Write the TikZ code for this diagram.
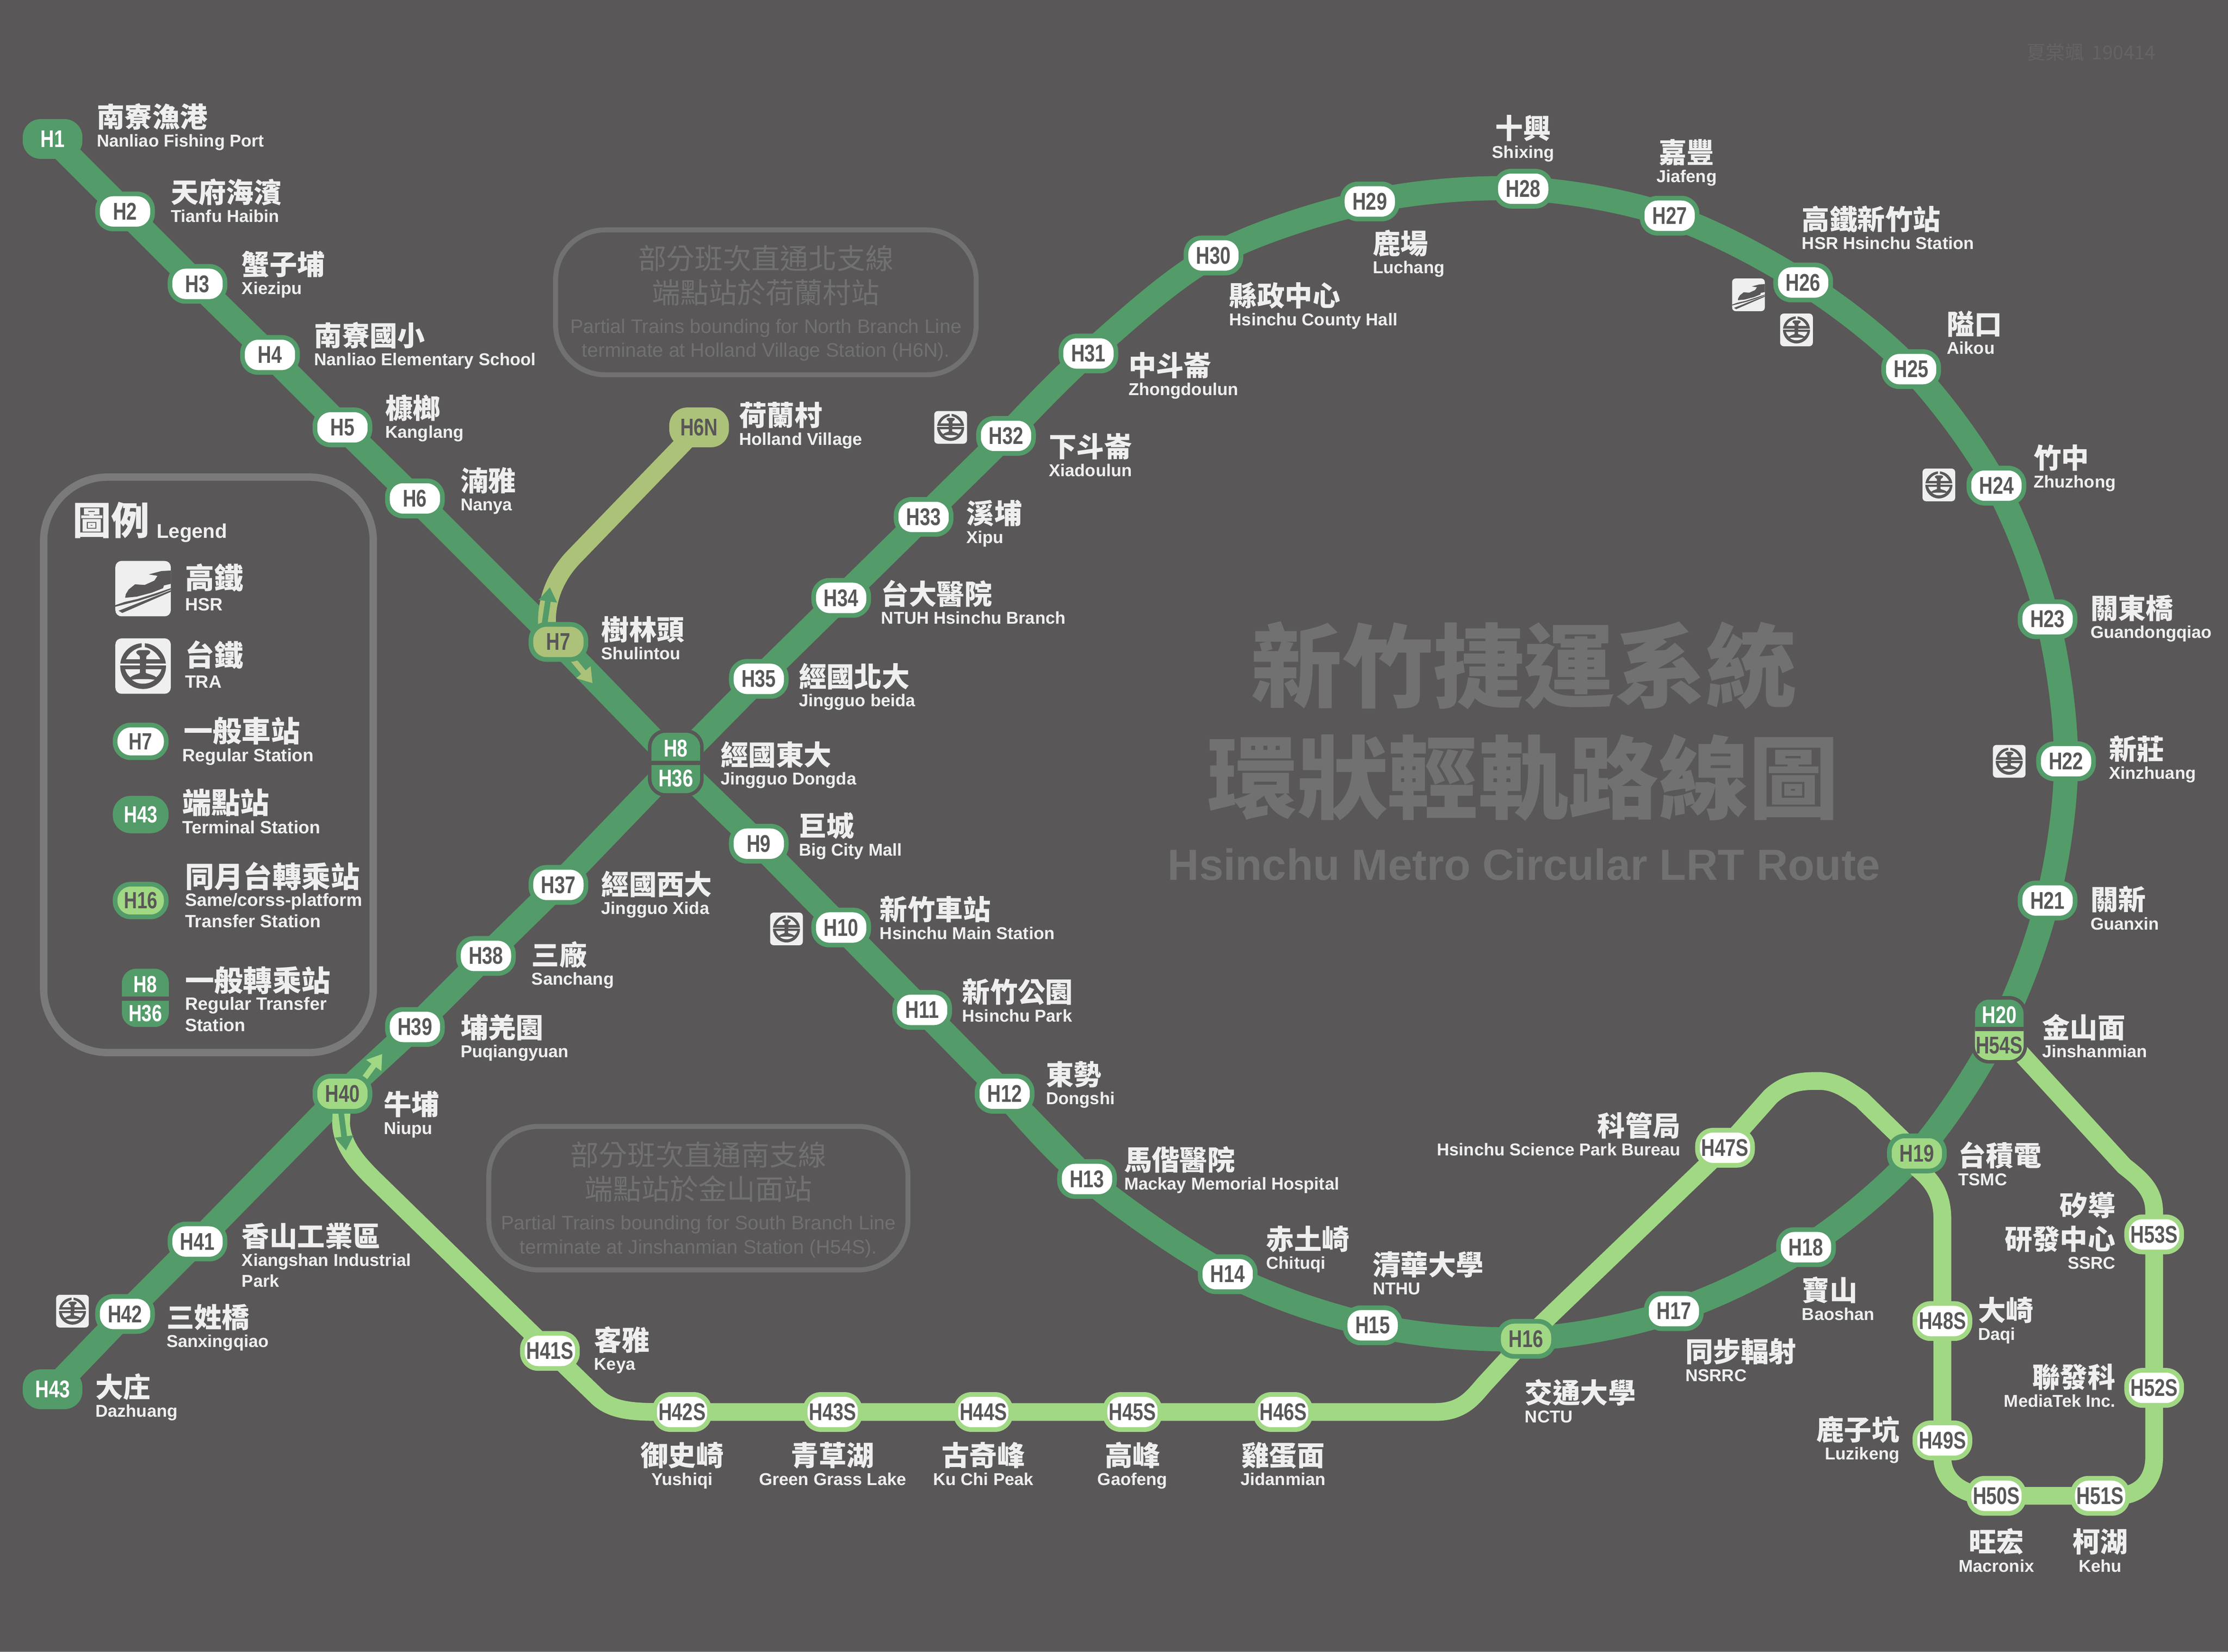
\documentclass[tikz,border=0pt]{standalone}
\usepackage{fontspec}
\usetikzlibrary{arrows.meta}
\setmainfont{Liberation Sans}
\newfontfamily\zhf{Noto Sans CJK TC}
\newfontfamily\codef[FakeStretch=0.78]{Liberation Sans}
\definecolor{bgc}{HTML}{595757}
\definecolor{mainc}{HTML}{539B69}
\definecolor{lightc}{HTML}{A1D884}
\definecolor{olivec}{HTML}{ACC278}
\definecolor{textc}{HTML}{EFEFEF}
\definecolor{mutec}{HTML}{727171}
\definecolor{legc}{HTML}{7A7A7A}
\definecolor{markc}{HTML}{656363}
\pgfdeclarelayer{fg}
\pgfsetlayers{main,fg}
\newcommand{\codefont}{\codef\bfseries\fontsize{17}{17}\selectfont}
\newcommand{\legcode}{\codef\bfseries\fontsize{16.5}{17}\selectfont}
\tikzset{
  mainline/.style={draw=mainc,line width=17pt,line join=round},
  lightline/.style={draw=lightc,line width=12.5pt,line join=round},
  oliveline/.style={draw=olivec,line width=12.5pt,line join=round},
  pill/.style={rectangle,rounded corners=11pt,minimum width=38.7pt,minimum height=24.7pt,inner sep=0pt,line width=3.3pt,font=\codefont},
  stn/.style={pill,fill=white,draw=mainc,text=bgc},
  stnl/.style={pill,fill=white,draw=lightc,text=bgc},
  stnf/.style={pill,fill=lightc,draw=mainc,text=bgc},
  stno/.style={pill,fill=olivec,draw=mainc,text=bgc},
  term/.style={pill,fill=mainc,draw=mainc,text=white},
  termo/.style={pill,fill=olivec,draw=olivec,text=bgc},
  legpill/.style={minimum width=36pt,minimum height=23pt,font=\legcode},
  halo/.style={rectangle,fill=bgc,rounded corners=12.5pt,minimum width=39.2pt,minimum height=47.5pt,inner sep=0pt,outer sep=0pt},
  xbox/.style={rectangle,fill=mainc,rounded corners=10pt,minimum width=34.2pt,minimum height=42.5pt,inner sep=0pt,outer sep=0pt},
  xbar/.style={rectangle,fill=bgc,minimum width=34.2pt,minimum height=3pt,inner sep=0pt,outer sep=0pt},
  xtext/.style={inner sep=0pt,font=\codefont},
  zhlab/.style={inner sep=0pt,text=textc,font=\zhf\bfseries\fontsize{19.5}{20}\selectfont},
  enlab/.style={inner sep=0pt,text=textc,font=\bfseries\fontsize{12.1}{13}\selectfont},
  zhleg/.style={inner sep=0pt,text=textc,font=\zhf\bfseries\fontsize{20.5}{21}\selectfont},
  enleg/.style={inner sep=0pt,text=textc,font=\bfseries\fontsize{12.55}{13}\selectfont},
  notebox/.style={draw=mutec,line width=3.5pt,rounded corners=35pt},
  notezh/.style={inner sep=0pt,text=mutec,font=\zhf\fontsize{20}{21}\selectfont},
  noteen/.style={inner sep=0pt,text=mutec,font=\fontsize{13.75}{14}\selectfont},
  titlezh/.style={inner sep=0pt,text=mutec,font=\zhf\bfseries\fontsize{64}{65}\selectfont},
  diracc/.style={line width=4pt,-{Stealth[length=10pt,width=12.5pt,inset=0pt]}},
}
% label: id, x, y (centre of the Chinese line), anchor, Chinese, English
\newcommand{\lab}[6]{%
  \node[zhlab,anchor=base #4] (#1z) at (#2,#3+6.8) {#5};
  \node[enlab,anchor=base #4] (#1e) at (#2,#3+20.5) {#6};}
\newcommand{\hsricon}[3]{%
\begin{scope}[shift={(#1,#2)},x=#3pt,y=-#3pt]
  \fill[textc,rounded corners=.11*346*#3pt] (-173,-173) rectangle (173,173);
  \fill[bgc] (173,-113) -- (115,-110) -- (35,-89) -- (90,-80) -- (70,-50) -- (10,-23) -- (-50,-27) -- (-90,5) -- (-108,35) -- (-112,57) -- (-40,50) -- (55,25) -- (125,-3) -- (130,-20) -- (173,-30) -- cycle;
  \fill[bgc] (-173,103) -- (-115,83) -- (-35,65) -- (85,27) -- (173,-3) -- (173,5) -- (85,40) -- (-25,75) -- (-173,113) -- cycle;
  \fill[bgc] (-153,138) -- (173,10) -- (173,20) -- (-130,152) -- cycle;
\end{scope}}
\newcommand{\traicon}[3]{%
\begin{scope}[shift={(#1,#2)},x=#3pt,y=-#3pt]
  \fill[textc,rounded corners=.11*346*#3pt] (-173,-173) rectangle (173,173);
  \fill[bgc] (0,0) circle[radius=143];
  \fill[textc] (-107,-43) .. controls (-87,-83) and (-50,-110) .. (-9,-118) -- (-9,-150) -- (11,-150) -- (11,-118) .. controls (50,-110) and (85,-83) .. (107,-43) -- cycle;
  \fill[bgc] (-43,-88) .. controls (-35,-100) and (-25,-100) .. (-20,-100) -- (25,-100) .. controls (35,-100) and (45,-95) .. (45,-88) .. controls (45,-72) and (20,-70) .. (20,-58) -- (20,-30) -- (-20,-30) -- (-20,-58) .. controls (-20,-70) and (-43,-72) .. (-43,-88) -- cycle;
  \fill[textc] (-150,-15) rectangle (-20,-3);
  \fill[textc] (20,-15) rectangle (150,-3);
  \fill[textc] (-112,20) -- (-20,20) -- (-20,40) .. controls (-20,48) and (-55,50) .. (-80,70) .. controls (-95,58) and (-107,38) .. (-112,20) -- cycle;
  \fill[textc] (17,20) -- (115,20) .. controls (110,40) and (97,58) .. (82,69) .. controls (60,50) and (17,48) .. (17,40) -- cycle;
  \fill[textc] (-69,85) .. controls (-35,80) and (35,80) .. (72,85) .. controls (50,104) and (20,110) .. (0,110) .. controls (-25,110) and (-50,102) .. (-69,85) -- cycle;
\end{scope}}
\begin{document}
\begin{tikzpicture}[x=1pt,y=-1pt]
\useasboundingbox (0,-0.8) rectangle (1568,1161.9);
\fill[bgc] (0,-0.8) rectangle (1568,1161.9);
\fill[legc] (0,1161.2) rectangle (1568,1161.9);

% ---------- stations on the top layer ----------
\begin{pgfonlayer}{fg}
\node[term] (H1) at (37,97) {H1};
\node[stn] (H2) at (88,148) {H2};
\node[stn] (H3) at (139,199) {H3};
\node[stn] (H4) at (190,249) {H4};
\node[stn] (H5) at (241,300) {H5};
\node[stn] (H6) at (292,350) {H6};
\node[stno] (H7) at (393,451) {H7};
\node[termo] (H6N) at (492,300) {H6N};
\node[stn] (H9) at (534,593) {H9};
\node[stn] (H10) at (592,652) {H10};
\node[stn] (H11) at (649,710) {H11};
\node[stn] (H12) at (707,769) {H12};
\node[stn] (H13) at (765,829) {H13};
\node[stn] (H14) at (864,896) {H14};
\node[stn] (H15) at (966,932) {H15};
\node[stnf] (H16) at (1074,941.5) {H16};
\node[stn] (H17) at (1178,922) {H17};
\node[stn] (H18) at (1271,877) {H18};
\node[stnf] (H19) at (1349,811) {H19};
\node[stn] (H21) at (1441,633) {H21};
\node[stn] (H22) at (1454,535) {H22};
\node[stn] (H23) at (1441,435) {H23};
\node[stn] (H24) at (1405,341) {H24};
\node[stn] (H25) at (1345,259) {H25};
\node[stn] (H26) at (1269,198) {H26};
\node[stn] (H27) at (1175,151) {H27};
\node[stn] (H28) at (1072,132) {H28};
\node[stn] (H29) at (964,141) {H29};
\node[stn] (H30) at (854,179) {H30};
\node[stn] (H31) at (766,248) {H31};
\node[stn] (H32) at (708,306) {H32};
\node[stn] (H33) at (650,363) {H33};
\node[stn] (H34) at (592,420) {H34};
\node[stn] (H35) at (534,477) {H35};
\node[stn] (H37) at (393,622) {H37};
\node[stn] (H38) at (342,672) {H38};
\node[stn] (H39) at (292,722) {H39};
\node[stnf] (H40) at (241,769) {H40};
\node[stn] (H41) at (139,873) {H41};
\node[stn] (H42) at (88,924) {H42};
\node[term] (H43) at (37,977) {H43};
\node[stnl] (H41S) at (387,950) {H41S};
\node[stnl] (H42S) at (480,993) {H42S};
\node[stnl] (H43S) at (586,993) {H43S};
\node[stnl] (H44S) at (692,993) {H44S};
\node[stnl] (H45S) at (797,993) {H45S};
\node[stnl] (H46S) at (903,993) {H46S};
\node[stnl] (H47S) at (1214,807) {H47S};
\node[stnl] (H48S) at (1367,929) {H48S};
\node[stnl] (H49S) at (1367,1013) {H49S};
\node[stnl] (H50S) at (1405,1052) {H50S};
\node[stnl] (H51S) at (1478,1052) {H51S};
\node[stnl] (H52S) at (1516,976) {H52S};
\node[stnl] (H53S) at (1516,868) {H53S};
% transfer stations
\node[halo] (H8h) at (475.6,536.2) {};
\node[xbox] (H8) at (475.6,536.2) {};
\node[xbar] (H8b) at (475.6,536) {};
\node[xtext,text=white] (H8t) at (475.6,526) {H8};
\node[xtext,text=white] (H36t) at (475.6,547) {H36};
\node[halo] (H20h) at (1407,724) {};
\node[xbox] (H20) at (1407,724) {};
\fill[lightc] (H20.west) [rounded corners=10pt] -- (H20.south west) -- (H20.south east) [sharp corners] -- (H20.east) -- cycle;
\node[xbar] (H20b) at (1407,723.5) {};
\node[xtext,text=white] (H20t) at (1407,713.5) {H20};
\node[xtext,text=bgc] (H54St) at (1407,735) {H54S};
% legend pills
\node[stn,legpill] (LH7) at (99,521) {H7};
\node[term,legpill] (LH43) at (99,572.5) {H43};
\node[stnf,legpill] (LH16) at (99,633) {H16};
\node[xbox,minimum width=33pt,minimum height=41pt] (LH8) at (102.3,701.5) {};
\node[xbar,minimum width=33pt] (LH8b) at (102.3,702) {};
\node[xtext,text=white,font=\legcode] (LH8t) at (102.3,692) {H8};
\node[xtext,text=white,font=\legcode] (LH36t) at (102.3,712.5) {H36};
\end{pgfonlayer}

% ---------- lines ----------
\draw[mainline] (H1.center) -- (H2.center) -- (H3.center) -- (H4.center) -- (H5.center) -- (H6.center) -- (H7.center) -- (H8.center) -- (H9.center) -- (H10.center) -- (H11.center) -- (H12.center) -- (H13.center);
\draw[mainline] plot[smooth,tension=.55] coordinates {(H12.center) (H13.center) (H14.center) (H15.center) (H16.center) (H17.center) (H18.center) (H19.center) (H20.center) (H21.center) (H22.center) (H23.center) (H24.center) (H25.center) (H26.center) (H27.center) (H28.center) (H29.center) (H30.center) (H31.center) (H32.center)};
\draw[mainline] (H32.center) -- (H33.center) -- (H34.center) -- (H35.center) -- (H8.center) -- (H37.center) -- (H38.center) -- (H39.center) -- (H40.center) -- (H41.center) -- (H42.center) -- (H43.center);
\draw[oliveline] (H6N.center) -- (405,390) .. controls (392,403) and (384,420) .. (385,440) -- (H7.center);
\draw[lightline] (H40.center) -- (240,790) .. controls (241,805) and (250,816) .. (262,828) -- (H41S.center) -- (420,982) .. controls (430,992) and (445,993) .. (465,993) -- (H42S.center) -- (H43S.center) -- (H44S.center) -- (H45S.center) -- (H46S.center) -- (1010,993) .. controls (1030,993) and (1037,982) .. (1045,973) -- (H16.center) -- (H47S.center) -- (1246,771) .. controls (1258,760) and (1270,760) .. (1280,760) .. controls (1292,760) and (1300,766) .. (1310,773) -- (H19.center);
\draw[lightline] (H19.center) -- (1350,822) .. controls (1362,832) and (1367,842) .. (1367,858) -- (H48S.center) -- (H49S.center) -- (1367,1025) .. controls (1367,1042) and (1382,1052) .. (1400,1052) -- (H50S.center) -- (H51S.center) -- (1490,1052) .. controls (1505,1052) and (1516,1042) .. (1516,1025) -- (H52S.center) -- (H53S.center) -- (1516,852) .. controls (1516,838) and (1508,830) .. (1495,820) -- (H20.center);
% direction arrows
\coordinate (aH7a) at (383,440);
\coordinate (aH7b) at (387,412.5);
\draw[diracc,draw=mainc,fill=mainc] (aH7a) -- (aH7b);
\coordinate (aH7c) at (402,462);
\coordinate (aH7d) at (417,480);
\draw[diracc,draw=olivec,fill=olivec] (aH7c) -- (aH7d);
\coordinate (aH40a) at (255,760);
\coordinate (aH40b) at (269,741);
\draw[diracc,draw=lightc,fill=lightc] (aH40a) -- (aH40b);
\coordinate (aH40c) at (240,782);
\coordinate (aH40d) at (243.5,809);
\draw[diracc,draw=mainc,fill=mainc] (aH40c) -- (aH40d);

% ---------- station labels ----------
\lab{H1}{68}{82}{west}{南寮漁港}{Nanliao Fishing Port}
\lab{H2}{120}{135}{west}{天府海濱}{Tianfu Haibin}
\lab{H3}{170}{186}{west}{蟹子埔}{Xiezipu}
\lab{H4}{221}{236}{west}{南寮國小}{Nanliao Elementary School}
\lab{H5}{271}{287}{west}{槺榔}{Kanglang}
\lab{H6}{324}{338}{west}{湳雅}{Nanya}
\lab{H7}{423}{443}{west}{樹林頭}{Shulintou}
\lab{H6N}{520}{292}{west}{荷蘭村}{Holland Village}
\lab{H8}{507}{531}{west}{經國東大}{Jingguo Dongda}
\lab{H9}{562}{581}{west}{巨城}{Big City Mall}
\lab{H10}{619}{640}{west}{新竹車站}{Hsinchu Main Station}
\lab{H11}{677}{698}{west}{新竹公園}{Hsinchu Park}
\lab{H12}{736}{756}{west}{東勢}{Dongshi}
\lab{H13}{791}{816}{west}{馬偕醫院}{Mackay Memorial Hospital}
\lab{H14}{891}{872}{west}{赤土崎}{Chituqi}
\lab{H15}{966}{890}{west}{清華大學}{NTHU}
\lab{H16}{1073}{980}{west}{交通大學}{NCTU}
\lab{H17}{1186}{951}{west}{同步輻射}{NSRRC}
\lab{H18}{1268}{908}{west}{寶山}{Baoshan}
\lab{H19}{1378}{813}{west}{台積電}{TSMC}
\lab{H20}{1437}{723}{west}{金山面}{Jinshanmian}
\lab{H21}{1471}{633}{west}{關新}{Guanxin}
\lab{H22}{1484}{527}{west}{新莊}{Xinzhuang}
\lab{H23}{1471}{428}{west}{關東橋}{Guandongqiao}
\lab{H24}{1431}{322}{west}{竹中}{Zhuzhong}
\lab{H25}{1370}{228}{west}{隘口}{Aikou}
\lab{H26}{1268}{154}{west}{高鐵新竹站}{HSR Hsinchu Station}
\lab{H27}{1187}{107}{}{嘉豐}{Jiafeng}
\lab{H28}{1072}{90}{}{十興}{Shixing}
\lab{H29}{966}{171}{west}{鹿場}{Luchang}
\lab{H30}{865}{208}{west}{縣政中心}{Hsinchu County Hall}
\lab{H31}{794}{257}{west}{中斗崙}{Zhongdoulun}
\lab{H32}{738}{314}{west}{下斗崙}{Xiadoulun}
\lab{H33}{680}{361}{west}{溪埔}{Xipu}
\lab{H34}{620}{418}{west}{台大醫院}{NTUH Hsinchu Branch}
\lab{H35}{562}{476}{west}{經國北大}{Jingguo beida}
\lab{H37}{423}{622}{west}{經國西大}{Jingguo Xida}
\lab{H38}{374}{672}{west}{三廠}{Sanchang}
\lab{H39}{324}{723}{west}{埔羌園}{Puqiangyuan}
\lab{H40}{270}{777}{west}{牛埔}{Niupu}
\lab{H41}{170}{870}{west}{香山工業區}{Xiangshan Industrial}
\node[enlab,anchor=base west] (H41p) at (170,905) {Park};
\lab{H42}{117}{927}{west}{三姓橋}{Sanxingqiao}
\lab{H43}{67}{976}{west}{大庄}{Dazhuang}
\lab{H41S}{418}{943}{west}{客雅}{Keya}
\lab{H42S}{480}{1024}{}{御史崎}{Yushiqi}
\lab{H43S}{586}{1024}{}{青草湖}{Green Grass Lake}
\lab{H44S}{692}{1024}{}{古奇峰}{Ku Chi Peak}
\lab{H45S}{797}{1024}{}{高峰}{Gaofeng}
\lab{H46S}{903}{1024}{}{雞蛋面}{Jidanmian}
\lab{H47S}{1183}{792}{east}{科管局}{Hsinchu Science Park Bureau}
\lab{H48S}{1392}{922}{west}{大崎}{Daqi}
\lab{H49S}{1337}{1006}{east}{鹿子坑}{Luzikeng}
\lab{H50S}{1405}{1085}{}{旺宏}{Macronix}
\lab{H51S}{1478}{1085}{}{柯湖}{Kehu}
\lab{H52S}{1489}{969}{east}{聯發科}{MediaTek Inc.}
\node[zhlab,anchor=base east] (H53z) at (1489,854.8) {矽導};
\lab{H53S}{1489}{872}{east}{研發中心}{SSRC}

% ---------- interchange icons ----------
\hsricon{1230.5}{206.7}{.0665}
\traicon{1264.3}{231.4}{.0665}
\traicon{1364.5}{340.5}{.0665}
\traicon{1414}{535}{.0665}
\traicon{669}{300}{.0665}
\traicon{553.5}{653}{.0665}
\traicon{51}{922}{.0665}

% ---------- central title ----------
\node[titlezh] (t1) at (1072.5,467.5) {新竹捷運系統};
\node[titlezh,font=\zhf\bfseries\fontsize{63.5}{65}\selectfont] (t2) at (1072,546.5) {環狀輕軌路線圖};
\node[inner sep=0pt,text=mutec,font=\bfseries\fontsize{30.7}{32}\selectfont] (t3) at (1072.5,607.5) {Hsinchu Metro Circular LRT Route};

% ---------- notes ----------
\draw[notebox] (391,161) rectangle (687,263);
\node[notezh] (n1a) at (539,181) {部分班次直通北支線};
\node[notezh] (n1b) at (539,205) {端點站於荷蘭村站};
\node[noteen] (n1c) at (539,230) {Partial Trains bounding for North Branch Line};
\node[noteen] (n1d) at (539,247) {terminate at Holland Village Station (H6N).};
\draw[notebox] (344,792) rectangle (639,893);
\node[notezh] (n2a) at (491.5,812) {部分班次直通南支線};
\node[notezh] (n2b) at (491.5,836) {端點站於金山面站};
\node[noteen] (n2c) at (491.5,861) {Partial Trains bounding for South Branch Line};
\node[noteen] (n2d) at (491.5,878) {terminate at Jinshanmian Station (H54S).};

% ---------- watermark ----------
\node[inner sep=0pt,text=markc,anchor=west,font=\zhf\fontsize{13.5}{14}\selectfont] (wm) at (1426,36) {夏棠颯\hspace{.4em}190414};

% ---------- legend ----------
\draw[draw=legc,line width=5.2pt,rounded corners=45pt] (30.7,335) rectangle (262.7,740);
\node[inner sep=0pt,text=textc,anchor=base west,font=\zhf\bfseries\fontsize{27}{28}\selectfont] (ltz) at (51,375.5) {圖例};
\node[inner sep=0pt,text=textc,anchor=base west,font=\bfseries\fontsize{14}{15}\selectfont] (lte) at (110,378) {Legend};
\hsricon{100.7}{413.5}{.1127}
\traicon{100.7}{468}{.1127}
\node[zhleg,anchor=base west] (l1z) at (130,413.5) {高鐵};
\node[enleg,anchor=base west] (l1e) at (130,429) {HSR};
\node[zhleg,anchor=base west] (l2z) at (130,468) {台鐵};
\node[enleg,anchor=base west] (l2e) at (130,483.5) {TRA};
\node[zhleg,anchor=base west] (l3z) at (129,521.5) {一般車站};
\node[enleg,anchor=base west] (l3e) at (128,535) {Regular Station};
\node[zhleg,anchor=base west] (l4z) at (128,572) {端點站};
\node[enleg,anchor=base west] (l4e) at (128,586) {Terminal Station};
\node[zhleg,anchor=base west] (l5z) at (130,624) {同月台轉乘站};
\node[enleg,anchor=base west] (l5e) at (130,637) {Same/corss-platform};
\node[enleg,anchor=base west] (l5f) at (130,652) {Transfer Station};
\node[zhleg,anchor=base west] (l6z) at (130,697) {一般轉乘站};
\node[enleg,anchor=base west] (l6e) at (130,710) {Regular Transfer};
\node[enleg,anchor=base west] (l6f) at (130,725) {Station};
\end{tikzpicture}
\end{document}
